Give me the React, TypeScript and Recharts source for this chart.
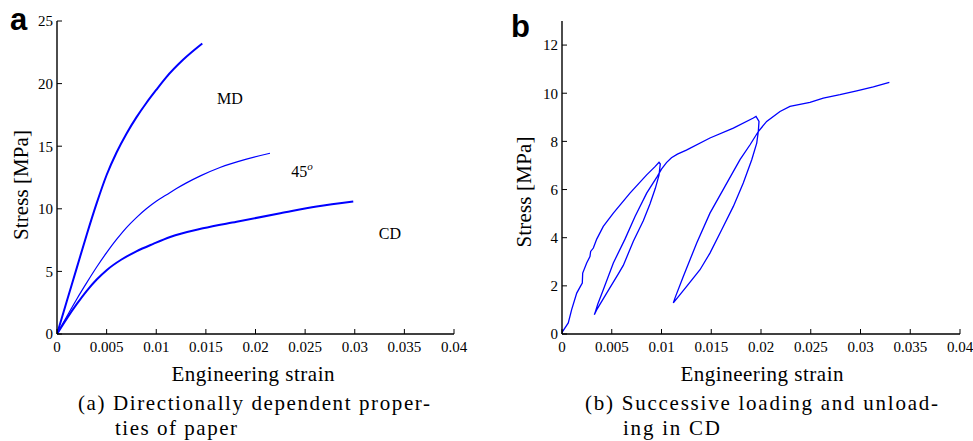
import React from 'react';
import { ComposedChart, Line, XAxis, YAxis, Scatter } from 'recharts';

// ---------- tick values ----------
const strainTicks = [0, 0.005, 0.01, 0.015, 0.02, 0.025, 0.03, 0.035, 0.04];
const stressTicksA = [0, 5, 10, 15, 20, 25];
const stressTicksB = [0, 2, 4, 6, 8, 10, 12];

// ---------- panel a ----------
const mdStrain = [0, 0.001, 0.002, 0.003, 0.004, 0.005, 0.006, 0.007, 0.008, 0.009, 0.01, 0.011, 0.0127, 0.01464];
const mdStress = [0, 2.65, 5.3, 7.95, 10.45, 12.7, 14.5, 16.0, 17.3, 18.45, 19.5, 20.5, 21.9, 23.2];

const d45Strain = [0, 0.001, 0.002, 0.003, 0.004, 0.005, 0.006, 0.007, 0.008, 0.009, 0.01, 0.011, 0.012, 0.013, 0.0145, 0.01642, 0.019, 0.02146];
const d45Stress = [0, 1.42, 2.8, 4.1, 5.35, 6.5, 7.55, 8.5, 9.3, 10.0, 10.6, 11.1, 11.6, 12.05, 12.65, 13.3, 13.95, 14.44];

const cdStrain = [0, 0.001, 0.002, 0.003, 0.004, 0.005, 0.0065, 0.008, 0.0097, 0.0114, 0.0147, 0.0181, 0.0225, 0.02616, 0.02985];
const cdStress = [0, 1.25, 2.4, 3.45, 4.35, 5.1, 5.95, 6.6, 7.2, 7.75, 8.44, 8.97, 9.64, 10.19, 10.59];

const labelsA = ['MD', '45', 'CD'];
const labelSupA = ['', 'o', ''];
const labelStrainA = [0.01743, 0.02469, 0.03355];
const labelStressA = [18.78, 12.94, 7.99];

// ---------- panel b (one continuous CD test, split in segments) ----------
const load1Strain = [0, 0.00007, 0.00063, 0.00097, 0.00148, 0.00185, 0.00204, 0.00208, 0.00248, 0.00281, 0.00288, 0.00315, 0.00349, 0.00415, 0.00516, 0.00683, 0.00851, 0.00935, 0.00975];
const load1Stress = [0.04, 0.11, 0.46, 1.01, 1.7, 1.98, 2.12, 2.53, 2.95, 3.22, 3.43, 3.57, 3.94, 4.47, 5.02, 5.85, 6.61, 6.95, 7.13];

const unload1Strain = [0.00988, 0.00985, 0.00975, 0.00938, 0.00884, 0.00817, 0.00717, 0.00616, 0.00566, 0.00449, 0.00348, 0.00325];
const unload1Stress = [7.06, 6.96, 6.6, 6.05, 5.4, 4.7, 3.85, 2.85, 2.5, 1.7, 1.0, 0.8];

const reload1Strain = [0.00335, 0.0036, 0.00415, 0.00516, 0.00633, 0.00734, 0.00851, 0.00958, 0.01, 0.0105, 0.011, 0.0116, 0.0125, 0.01487, 0.01722, 0.01923, 0.0195];
const reload1Stress = [0.92, 1.25, 1.84, 2.95, 3.94, 4.88, 5.85, 6.55, 6.85, 7.12, 7.32, 7.47, 7.64, 8.14, 8.55, 8.97, 9.04];

const unload2Strain = [0.0198, 0.01973, 0.01957, 0.01907, 0.01822, 0.01722, 0.01605, 0.01487, 0.01387, 0.01253, 0.01119];
const unload2Stress = [8.83, 8.41, 7.93, 7.24, 6.27, 5.3, 4.33, 3.36, 2.67, 1.98, 1.29];

const reload2Strain = [0.01136, 0.01219, 0.01354, 0.01487, 0.01638, 0.01789, 0.0189, 0.01973, 0.02057, 0.02191, 0.02291, 0.02492, 0.02626, 0.02794, 0.02962, 0.03129, 0.0329];
const reload2Stress = [1.5, 2.39, 3.78, 5.02, 6.13, 7.24, 7.86, 8.41, 8.83, 9.24, 9.45, 9.62, 9.8, 9.94, 10.1, 10.26, 10.45];

const zip = (xs: number[], ys: number[]) => xs.map((x, i) => ({ x, y: ys[i] }));

const mdData = zip(mdStrain, mdStress);
const d45Data = zip(d45Strain, d45Stress);
const cdData = zip(cdStrain, cdStress);
const annA = labelsA.map((t, i) => ({ x: labelStrainA[i], y: labelStressA[i], label: t, sup: labelSupA[i] }));
const cycleData = [
  ...zip(load1Strain, load1Stress),
  ...zip(unload1Strain, unload1Stress),
  ...zip(reload1Strain, reload1Stress),
  ...zip(unload2Strain, unload2Stress),
  ...zip(reload2Strain, reload2Stress),
];

const SERIF = 'Liberation Serif';
const SANS = 'Liberation Sans';
const BLUE = '#0000ff';

const fmt = (v: number) => String(v);
const blank = () => '';

const AnnLabel = (props: any) => {
  const { cx, cy, payload } = props;
  return (
    <text x={cx} y={cy} textAnchor="middle" dominantBaseline="central" fontFamily={SERIF} fontSize={16} fill="#000">
      {payload.label}
      {payload.sup ? (
        <tspan dy={-6} fontSize={11} fontStyle="italic">{payload.sup}</tspan>
      ) : null}
    </text>
  );
};

function Panel({
  width, margin, yTicks, yMax, children,
}: { width: number; margin: any; yTicks: number[]; yMax: number; children: any }) {
  const tickStyle = { fill: '#000', fontSize: 15, fontFamily: SERIF };
  return (
    <ComposedChart width={width} height={441} margin={margin}>
      <XAxis xAxisId="b" dataKey="x" type="number" domain={[0, 0.04]} ticks={strainTicks} interval={0}
        allowDataOverflow height={30} tickSize={-5} tickMargin={12} tickFormatter={fmt}
        tick={tickStyle} axisLine={{ stroke: '#000', strokeWidth: 1.4 }} tickLine={{ stroke: '#000' }} />
      <XAxis xAxisId="t" dataKey="x" orientation="top" type="number" domain={[0, 0.04]} ticks={strainTicks} interval={0}
        allowDataOverflow height={0} tickSize={-5} tickFormatter={blank}
        tick={tickStyle} axisLine={{ stroke: '#000', strokeWidth: 1.4 }} tickLine={{ stroke: '#000' }} />
      <YAxis yAxisId="l" type="number" domain={[0, yMax]} ticks={yTicks} interval={0} allowDataOverflow
        width={50} tickSize={-5} tickMargin={9} tickFormatter={fmt}
        tick={tickStyle} axisLine={{ stroke: '#000', strokeWidth: 1.4 }} tickLine={{ stroke: '#000' }} />
      <YAxis yAxisId="r" orientation="right" type="number" domain={[0, yMax]} ticks={yTicks} interval={0} allowDataOverflow
        width={0} tickSize={-5} tickFormatter={blank}
        tick={tickStyle} axisLine={{ stroke: '#000', strokeWidth: 1.4 }} tickLine={{ stroke: '#000' }} />
      {children}
    </ComposedChart>
  );
}

export default function App() {
  return (
    <div style={{ position: 'absolute', left: 0, top: 0, width: 973, height: 441, background: '#fff', overflow: 'hidden' }}>
      <div style={{ position: 'absolute', left: 0, top: 0 }}>
        <Panel width={480} margin={{ top: 21, right: 26, bottom: 77, left: 7 }} yTicks={stressTicksA} yMax={25}>
          <Line xAxisId="b" yAxisId="l" data={mdData} dataKey="y" type="monotone" stroke={BLUE} strokeWidth={2} dot={false} isAnimationActive={false} />
          <Line xAxisId="b" yAxisId="l" data={d45Data} dataKey="y" type="monotone" stroke={BLUE} strokeWidth={1.2} dot={false} isAnimationActive={false} />
          <Line xAxisId="b" yAxisId="l" data={cdData} dataKey="y" type="monotone" stroke={BLUE} strokeWidth={2} dot={false} isAnimationActive={false} />
          <Scatter xAxisId="b" yAxisId="l" data={annA} dataKey="y" shape={AnnLabel} isAnimationActive={false} />
        </Panel>
      </div>
      <div style={{ position: 'absolute', left: 490, top: 0 }}>
        <Panel width={483} margin={{ top: 21, right: 13, bottom: 77, left: 22 }} yTicks={stressTicksB} yMax={13}>
          <Line xAxisId="b" yAxisId="l" data={cycleData} dataKey="y" type="linear" stroke={BLUE} strokeWidth={1.3} dot={false} isAnimationActive={false} />
        </Panel>
      </div>
      <svg width={973} height={441} style={{ position: 'absolute', left: 0, top: 0, pointerEvents: 'none' }}>
        <text x={10} y={30} fontFamily={SANS} fontWeight="bold" fontSize={31} fill="#000">a</text>
        <text x={511} y={36.5} fontFamily={SANS} fontWeight="bold" fontSize={31} fill="#000">b</text>

        <text x={253} y={381} textAnchor="middle" fontFamily={SERIF} fontSize={21} fill="#000" textLength={163} lengthAdjust="spacing">Engineering strain</text>
        <text x={762} y={381} textAnchor="middle" fontFamily={SERIF} fontSize={21} fill="#000" textLength={163} lengthAdjust="spacing">Engineering strain</text>

        <text transform="translate(28,185) rotate(-90)" textAnchor="middle" fontFamily={SERIF} fontSize={21} fill="#000" textLength={110} lengthAdjust="spacing">Stress [MPa]</text>
        <text transform="translate(531,192) rotate(-90)" textAnchor="middle" fontFamily={SERIF} fontSize={21} fill="#000" textLength={111} lengthAdjust="spacing">Stress [MPa]</text>

        <text x={78} y={410} fontFamily={SERIF} fontSize={21} fill="#000" textLength={352} lengthAdjust="spacing">(a) Directionally dependent proper-</text>
        <text x={115} y={435} fontFamily={SERIF} fontSize={21} fill="#000" textLength={122} lengthAdjust="spacing">ties of paper</text>
        <text x={585} y={410} fontFamily={SERIF} fontSize={21} fill="#000" textLength={353} lengthAdjust="spacing">(b) Successive loading and unload-</text>
        <text x={623} y={435} fontFamily={SERIF} fontSize={21} fill="#000" textLength={97} lengthAdjust="spacing">ing in CD</text>
      </svg>
    </div>
  );
}
